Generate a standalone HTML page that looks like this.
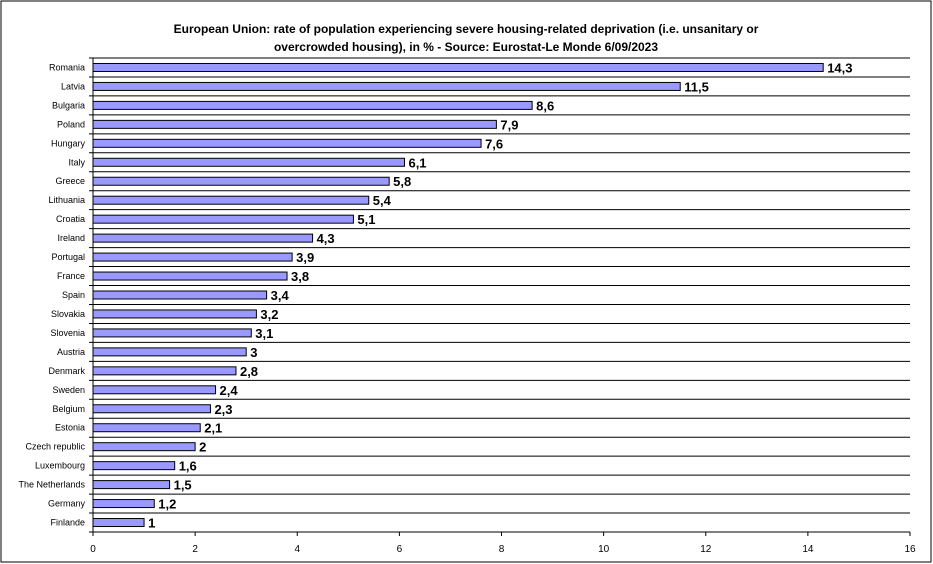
<!DOCTYPE html>
<html><head><meta charset="utf-8"><style>
body{margin:0;background:#fff;}
svg{display:block;font-family:"Liberation Sans",Arial,sans-serif;}
</style></head><body>
<svg id="chart" width="933" height="564">
<rect x="1" y="1" width="930" height="561" fill="#fff" stroke="#000" stroke-width="1"/>
<text x="466" y="33" text-anchor="middle" font-size="12" font-weight="bold">European Union: rate of population experiencing severe housing-related deprivation (i.e. unsanitary or</text>
<text x="466" y="51" text-anchor="middle" font-size="12" font-weight="bold">overcrowded housing), in % - Source: Eurostat-Le Monde 6/09/2023</text>
<g id="plot"></g>
</svg>
<script>
const categories=["Romania","Latvia","Bulgaria","Poland","Hungary","Italy","Greece","Lithuania","Croatia","Ireland","Portugal","France","Spain","Slovakia","Slovenia","Austria","Denmark","Sweden","Belgium","Estonia","Czech republic","Luxembourg","The Netherlands","Germany","Finlande"];
const values=[14.3,11.5,8.6,7.9,7.6,6.1,5.8,5.4,5.1,4.3,3.9,3.8,3.4,3.2,3.1,3,2.8,2.4,2.3,2.1,2,1.6,1.5,1.2,1];
const xTicks=[0,2,4,6,8,10,12,14,16];
const NS="http://www.w3.org/2000/svg";
const plotG=document.getElementById('plot');
const plotLeft=93,plotRight=910,plotTop=58,plotBottom=532,xMax=16;
const rowH=(plotBottom-plotTop)/categories.length;
const xs=v=>plotLeft+v/xMax*(plotRight-plotLeft);
function mk(t,a){const e=document.createElementNS(NS,t);for(const k in a)e.setAttribute(k,a[k]);plotG.appendChild(e);return e;}
for(let i=0;i<categories.length;i++){
  const y=plotTop+i*rowH;
  const gl=mk('line',{x1:plotLeft-4,x2:plotRight,y1:y,y2:y,stroke:'#000','stroke-width':1});
  
  
  const cy=y+rowH/2;
  const lb=mk('text',{x:plotLeft-8,y:cy+3,'text-anchor':'end','font-size':9});
  lb.textContent=categories[i];
  
  
  const b=mk('rect',{x:plotLeft,y:cy-4,width:xs(values[i])-plotLeft,height:8,fill:'#9999ff',stroke:'#000','stroke-width':1});
  
  
  const v=mk('text',{x:xs(values[i])+4,y:cy+5,'font-size':13,'font-weight':'bold'});
  v.textContent=String(values[i]).replace('.',',');
  
  
}
const ax=mk('line',{x1:plotLeft,x2:plotRight,y1:plotBottom,y2:plotBottom,stroke:'#000'});


const ay=mk('line',{x1:plotLeft,x2:plotLeft,y1:plotTop,y2:plotBottom+4,stroke:'#000'});


const bt=mk('line',{x1:plotLeft-4,x2:plotLeft,y1:plotBottom,y2:plotBottom,stroke:'#000'});


xTicks.forEach(t=>{
  const tk=mk('line',{x1:xs(t),x2:xs(t),y1:plotBottom,y2:plotBottom+4,stroke:'#000'});
  
  
  const tl=mk('text',{x:xs(t),y:plotBottom+20,'text-anchor':'middle','font-size':10});
  tl.textContent=t;
  
  
});
</script>
</body></html>
